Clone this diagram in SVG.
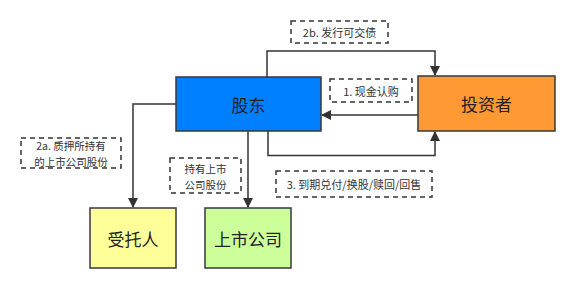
<svg xmlns="http://www.w3.org/2000/svg" width="577" height="290" viewBox="0 0 577 290">
<style>
.node{stroke:#36393d;stroke-width:1.5}
.nt{font-family:"Noto Sans CJK SC","Noto Sans",sans-serif;font-size:17px;fill:#222;text-anchor:middle;dominant-baseline:central}
.lb{fill:#fff;stroke:#333;stroke-width:1.5;stroke-dasharray:5,4}
.lt{font-family:"Noto Sans CJK SC","Noto Sans",sans-serif;font-size:11px;fill:#333;text-anchor:middle;dominant-baseline:central}
.lt2{font-family:"Noto Sans CJK SC","Noto Sans",sans-serif;font-size:10.5px;fill:#333;text-anchor:middle;dominant-baseline:central}
.c{fill:none;stroke:#333;stroke-width:1.5}
</style>
<defs>
<marker id="ah" viewBox="0 0 10 10" refX="9" refY="5" markerWidth="10" markerHeight="10" markerUnits="userSpaceOnUse" orient="auto">
<path d="M0,0 L10,5 L0,10 Z" fill="#333"/>
</marker>
</defs>
<rect width="577" height="290" fill="#fff"/>
<g id="connectors">
<path class="c" d="M267,77 V51 H435 V75" marker-end="url(#ah)"/>
<path class="c" d="M418,115 H322" marker-end="url(#ah)"/>
<path class="c" d="M268,131 V155.5 H435 V132" marker-end="url(#ah)"/>
<path class="c" d="M176,104 H133 V207" marker-end="url(#ah)"/>
<path class="c" d="M248,131 V207" marker-end="url(#ah)"/>
</g>
<g id="label-2b">
<rect class="lb" x="291" y="21" width="97" height="22"/>
<text class="lt" x="339.5" y="32">2b. 发行可交债</text>
</g>
<g id="label-1">
<rect class="lb" x="330" y="79" width="82" height="23"/>
<text class="lt" x="371" y="90.5">1. 现金认购</text>
</g>
<g id="label-2a">
<rect class="lb" x="21" y="138" width="100" height="30"/>
<text class="lt2" x="71" y="145.5">2a. 质押所持有</text>
<text class="lt2" x="71" y="161">的上市公司股份</text>
</g>
<g id="label-hold">
<rect class="lb" x="170" y="158" width="71" height="35"/>
<text class="lt2" x="205.5" y="168.5">持有上市</text>
<text class="lt2" x="205.5" y="184">公司股份</text>
</g>
<g id="label-3">
<rect class="lb" x="276" y="171" width="156" height="26"/>
<text class="lt" x="354" y="184">3. 到期兑付/换股/赎回/回售</text>
</g>
<g id="shareholder">
<rect class="node" x="176" y="77" width="145" height="54" fill="#007fff"/>
<text class="nt" x="248.5" y="104">股东</text>
</g>
<g id="investor">
<rect class="node" x="418" y="76" width="137" height="55" fill="#ff9933"/>
<text class="nt" x="486.5" y="103.5">投资者</text>
</g>
<g id="trustee">
<rect class="node" x="90" y="208" width="86" height="60" fill="#ffff99"/>
<text class="nt" x="133" y="238">受托人</text>
</g>
<g id="listed-company">
<rect class="node" x="205" y="208" width="86" height="60" fill="#ccff99"/>
<text class="nt" x="248" y="238">上市公司</text>
</g>
</svg>
